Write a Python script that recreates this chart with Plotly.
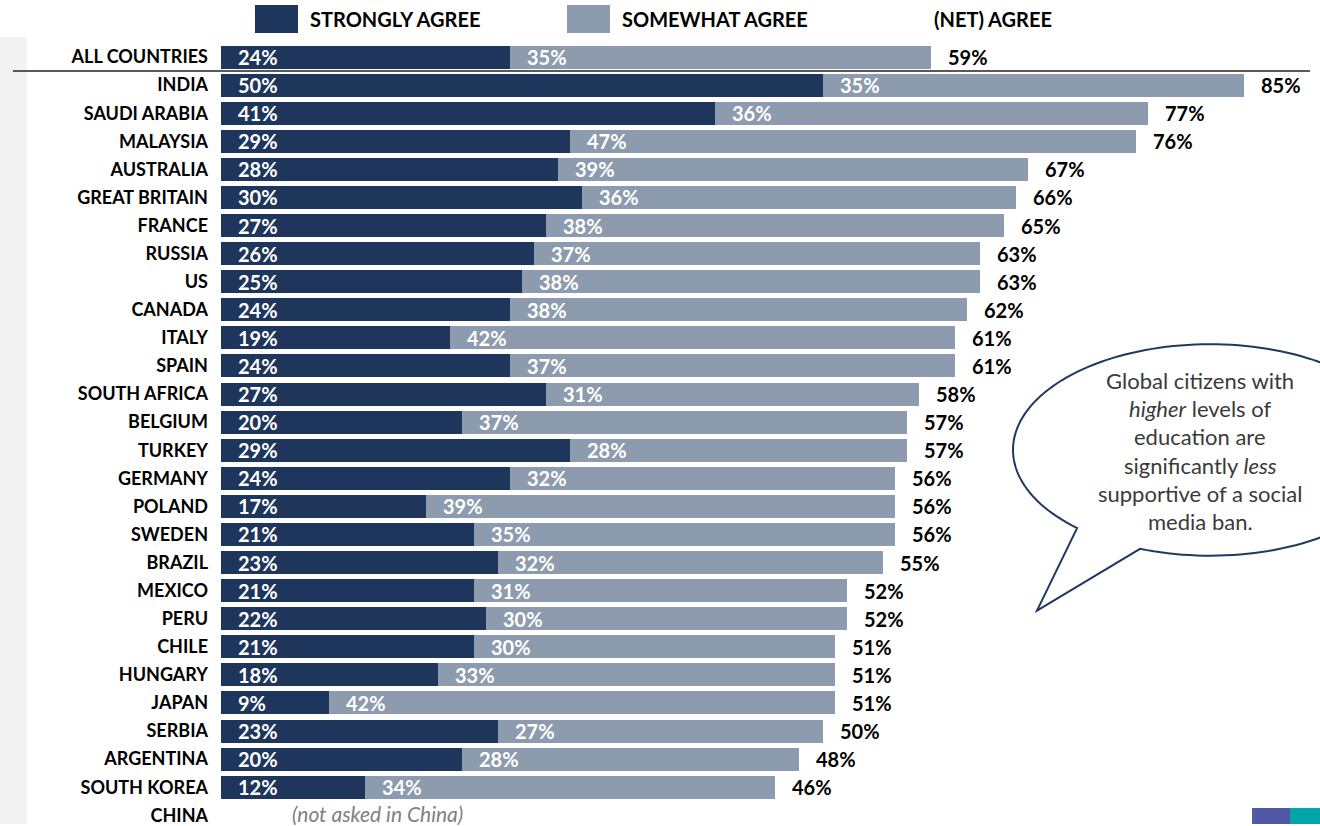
import math
import plotly.graph_objects as go

# Survey results: share agreeing with a social media ban, by country
countries = [
    "ALL COUNTRIES", "INDIA", "SAUDI ARABIA", "MALAYSIA", "AUSTRALIA", "GREAT BRITAIN",
    "FRANCE", "RUSSIA", "US", "CANADA", "ITALY", "SPAIN", "SOUTH AFRICA", "BELGIUM",
    "TURKEY", "GERMANY", "POLAND", "SWEDEN", "BRAZIL", "MEXICO", "PERU", "CHILE",
    "HUNGARY", "JAPAN", "SERBIA", "ARGENTINA", "SOUTH KOREA", "CHINA",
]
strongly_agree = [24, 50, 41, 29, 28, 30, 27, 26, 25, 24, 19, 24, 27, 20, 29, 24, 17,
                  21, 23, 21, 22, 21, 18, 9, 23, 20, 12, None]
somewhat_agree = [35, 35, 36, 47, 39, 36, 38, 37, 38, 38, 42, 37, 31, 37, 28, 32, 39,
                  35, 32, 31, 30, 30, 33, 42, 27, 28, 34, None]
net_agree = [59, 85, 77, 76, 67, 66, 65, 63, 63, 62, 61, 61, 58, 57, 57, 56, 56, 56,
             55, 52, 52, 51, 51, 51, 50, 48, 46, None]
legend_labels = ["STRONGLY AGREE", "SOMEWHAT AGREE", "(NET) AGREE"]
no_data_note = "(not asked in China)"
bubble_lines = [
    "Global citizens with",
    "<i>higher</i> levels of",
    "education are",
    "significantly <i>less</i>",
    "supportive of a social",
    "media ban.",
]

DARK = "#1e365c"
LIGHT = "#8d9bae"
FONT = "Lato"

W, H = 1320, 826
ML, MR, MT, MB = 221, 0, 43, 0
PW, PH = W - ML - MR, H - MT - MB


def px(x):
    return (x - ML) / PW


def py(y):
    return (H - MB - y) / PH


fig = go.Figure()
fig.add_trace(go.Bar(
    y=countries, x=strongly_agree, orientation="h", name=legend_labels[0],
    marker=dict(color=DARK, line=dict(width=0)), hoverinfo="skip",
))
fig.add_trace(go.Bar(
    y=countries, x=somewhat_agree, orientation="h", name=legend_labels[1],
    marker=dict(color=LIGHT, line=dict(width=0)), hoverinfo="skip",
))

value_font_white = dict(family=FONT, size=20, color="white", weight="bold")
value_font_black = dict(family=FONT, size=20, color="black", weight="bold")

annotations = []
for c, s, m, n in zip(countries, strongly_agree, somewhat_agree, net_agree):
    if s is None:
        continue
    annotations.append(dict(x=0, y=c, text=f"{s}%", xanchor="left", xshift=15,
                            showarrow=False, font=value_font_white))
    annotations.append(dict(x=s, y=c, text=f"{m}%", xanchor="left", xshift=15,
                            showarrow=False, font=value_font_white))
    annotations.append(dict(x=n, y=c, text=f"{n}%", xanchor="left", xshift=15,
                            showarrow=False, font=value_font_black))

annotations.append(dict(x=5.7, y=countries[-1], text=no_data_note, xanchor="left",
                        yanchor="bottom", yshift=-13, showarrow=False,
                        font=dict(family=FONT, size=21, color="#808080", style="italic")))

# legend row
legend_x = [308, 620, 932]
for lab, lx in zip(legend_labels, legend_x):
    annotations.append(dict(x=px(lx), y=py(19), xref="paper", yref="paper", text=lab,
                            xanchor="left", yanchor="middle", showarrow=False,
                            font=dict(family=FONT, size=20, color="black", weight="bold")))

# speech bubble text
bubble_y = [381, 409, 438, 467, 495, 523]
for line, ly in zip(bubble_lines, bubble_y):
    annotations.append(dict(x=px(1200), y=py(ly), xref="paper", yref="paper", text=line,
                            xanchor="center", yanchor="middle", showarrow=False,
                            font=dict(family=FONT, size=22, color="#3a3a3a")))

shapes = []
# left side grey strip
shapes.append(dict(type="rect", xref="paper", yref="paper", x0=px(0), x1=px(27),
                   y0=py(826), y1=py(37), fillcolor="#f2f2f2", line=dict(width=0),
                   layer="below"))
# separator under the all-countries row
shapes.append(dict(type="line", xref="paper", yref="y", x0=px(13), x1=px(1310),
                   y0=0.5, y1=0.5, line=dict(color="#595959", width=2)))
# legend swatches
for col, x0 in [(DARK, 255), (LIGHT, 567)]:
    shapes.append(dict(type="rect", xref="paper", yref="paper", x0=px(x0), x1=px(x0 + 43),
                       y0=py(33), y1=py(5), fillcolor=col, line=dict(width=0)))

# speech bubble outline: ellipse with a tail
cx, cy, rx, ry = 1210, 451, 197, 106
t_start, t_end = math.radians(132.4), math.radians(110.8 + 360)
pts = []
steps = 160
for i in range(steps + 1):
    t = t_start + (t_end - t_start) * i / steps
    pts.append((cx + rx * math.cos(t), cy + ry * math.sin(t)))
pts.append((1037, 612))
path = "M " + " L ".join(f"{px(x):.5f},{py(y):.5f}" for x, y in pts) + " Z"
shapes.append(dict(type="path", xref="paper", yref="paper", path=path,
                   fillcolor="white", line=dict(color="#203864", width=2)))

# corner logo fragment
shapes.append(dict(type="rect", xref="paper", yref="paper", x0=px(1252), x1=px(1290),
                   y0=py(826), y1=py(810), fillcolor="#5158a6", line=dict(width=0)))
shapes.append(dict(type="rect", xref="paper", yref="paper", x0=px(1290), x1=px(1320),
                   y0=py(826), y1=py(810), fillcolor="#00a5a8", line=dict(width=0)))

fig.update_layout(
    width=W, height=H, barmode="stack", bargap=0.18,
    margin=dict(l=ML, r=MR, t=MT, b=MB, pad=0),
    paper_bgcolor="white", plot_bgcolor="white", showlegend=False,
    xaxis=dict(range=[0, PW / 12.04], visible=False, fixedrange=True),
    yaxis=dict(type="category", range=[27.31, -0.5], showgrid=False, zeroline=False,
               showline=False, ticks="", ticklabelstandoff=12,
               tickfont=dict(family=FONT, size=18, color="black", weight="bold")),
    annotations=annotations, shapes=shapes,
)

fig.write_html("out.html")
